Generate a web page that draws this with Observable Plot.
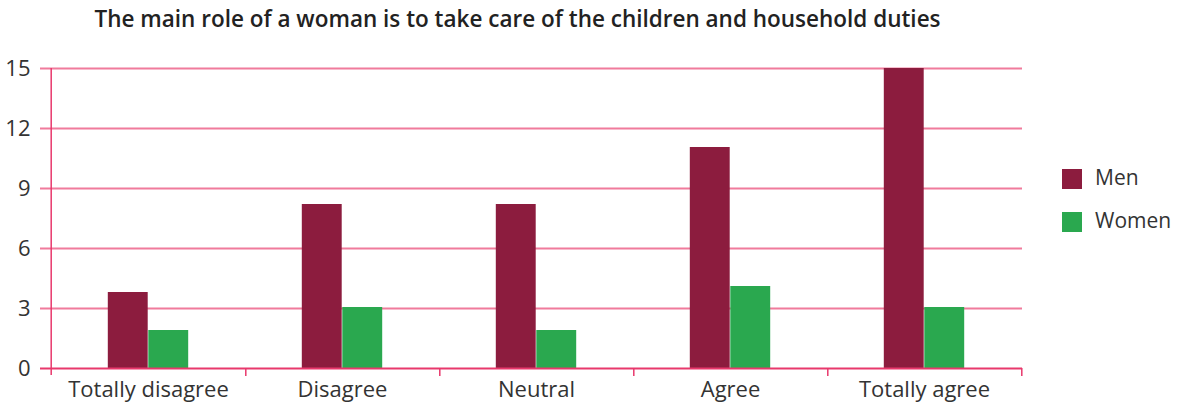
<!DOCTYPE html>
<html>
<head>
<meta charset="utf-8">
<script src="https://cdn.jsdelivr.net/npm/d3@7"></script>
<script src="https://cdn.jsdelivr.net/npm/@observablehq/plot@0.6"></script>
<style>
  body { margin: 0; background: #fff; font-family: "Open Sans", sans-serif; }
  #wrap { position: relative; width: 1186px; height: 405px; overflow: hidden; }
  #title { position: absolute; left: 0; top: 3px; width: 1035px; text-align: center; font-size: 22.5px; font-weight: 600; color: #222; white-space: nowrap; }
  #chart { position: absolute; left: 0; top: 40px; }
  .leg { position: absolute; left: 1062px; display: flex; align-items: center; font-size: 21px; color: #333; }
  .leg span.sw { width: 20px; height: 20px; display: inline-block; margin-right: 13px; }
</style>
</head>
<body>
<div id="wrap">
  <div id="title">The main role of a woman is to take care of the children and household duties</div>
  <div id="chart"></div>
  <div id="legend"></div>
</div>
<script>
const categories = ["Totally disagree", "Disagree", "Neutral", "Agree", "Totally agree"];
const series = ["Men", "Women"];
const menValues = [3.8, 8.2, 8.2, 11.05, 15.0];
const womenValues = [1.9, 3.05, 1.9, 4.1, 3.05];
const yTicks = [0, 3, 6, 9, 12, 15];
const colors = ["#8c1c3e", "#2aa84f"];

const data = [];
categories.forEach((c, i) => {
  data.push({category: c, series: "Men", value: menValues[i]});
  data.push({category: c, series: "Women", value: womenValues[i]});
});

const W = 1186, H = 365, mL = 49, mR = 164, mT = 28, mB = 37;
const bw = (W - mL - mR) / categories.length;
const barW = 40.5;

const plot = Plot.plot({
  width: W, height: H,
  marginLeft: mL, marginRight: mR, marginTop: mT, marginBottom: mB,
  style: {fontFamily: "'Open Sans', sans-serif", fontSize: "22px", color: "#333", background: "#fff"},
  x: {domain: categories, padding: 0, label: null},
  y: {domain: [0, 15], label: null},
  color: {domain: series, range: colors},
  marks: [
    Plot.ruleY(yTicks.filter(d => d > 0), {y: d => d, stroke: "#f07b9c", strokeWidth: 1.8, insetLeft: -9}),
    Plot.barY(data.filter(d => d.series === "Men"), {x: "category", y: "value", fill: "series", insetLeft: bw / 2 - barW, insetRight: bw / 2}),
    Plot.barY(data.filter(d => d.series === "Women"), {x: "category", y: "value", fill: "series", insetLeft: bw / 2, insetRight: bw / 2 - barW}),
    Plot.ruleY([0], {stroke: "#e8386c", strokeWidth: 2, insetLeft: -9}),
    Plot.ruleX(categories, {x: d => d, dx: bw / 2, y1: 0, y2: 0, insetBottom: -8, stroke: "#e8386c", strokeWidth: 1.5}),
    Plot.ruleX([categories[0]], {x: d => d, dx: -bw / 2, y1: 15, y2: 0, insetBottom: -7, stroke: "#e8386c", strokeWidth: 1.5}),
    Plot.axisY(yTicks, {tickSize: 0, tickPadding: 19, fontSize: 22, fill: "#333", label: null}),
    Plot.axisX({tickSize: 0, tickPadding: 13, fontSize: 22, fill: "#333", label: null})
  ]
});
document.getElementById("chart").appendChild(plot);

const legend = document.getElementById("legend");
const legTops = [169, 212];
series.forEach((s, i) => {
  const d = document.createElement("div");
  d.className = "leg";
  d.style.top = (legTops[i] - 4) + "px";
  d.style.height = "24px";
  d.innerHTML = `<span class="sw" style="background:${colors[i]};margin-top:4px"></span><span>${s}</span>`;
  legend.appendChild(d);
});
</script>
</body>
</html>
